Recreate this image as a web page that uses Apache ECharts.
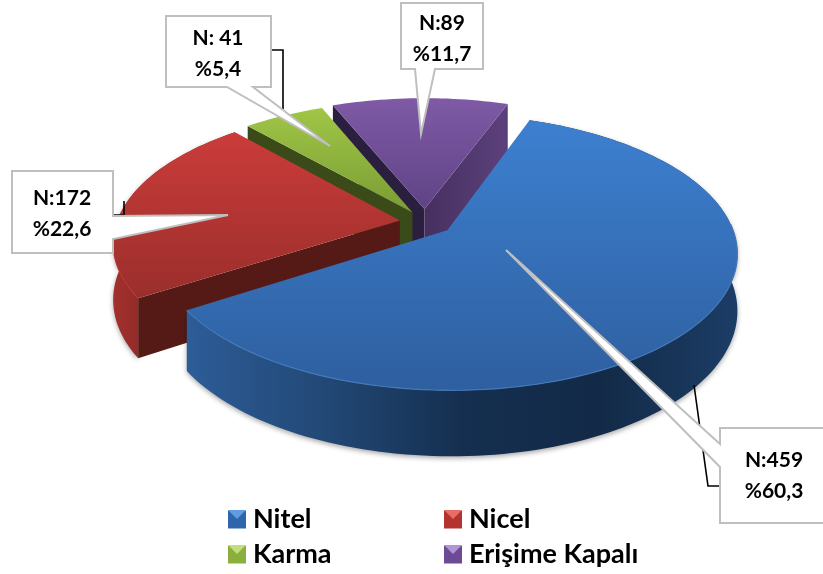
<!DOCTYPE html>
<html>
<head>
<meta charset="utf-8">
<title>Nitel Nicel Karma</title>
<script src="https://cdn.jsdelivr.net/npm/echarts@6/dist/echarts.min.js"></script>
<style>
  html, body { margin: 0; padding: 0; background: #fff; }
  #chart { width: 823px; height: 574px; }
</style>
</head>
<body>
<div id="chart"></div>
<script>
const categories = ['Nitel', 'Nicel', 'Karma', 'Erişime Kapalı']
const counts = [459, 172, 41, 89]
const countLabels = ['N:459', 'N:172', 'N: 41', 'N:89']
const percentLabels = ['%60,3', '%22,6', '%5,4', '%11,7']

const FONT = 'Lato, "Open Sans", sans-serif'
const total = counts.reduce((a, b) => a + b, 0)

// perspective disc
const view = { cx: 425, cy: 222, rx: 283, ry: 132, k: 0.157, depth: 55, startDeg: -70 }

const vGrad = (stops) => ({
  type: 'linear', x: 0, y: 0, x2: 0, y2: 1,
  colorStops: stops.map((c, i) => ({ offset: i / (stops.length - 1), color: c }))
})
const hGrad = (stops) => ({
  type: 'linear', x: 0, y: 0, x2: 1, y2: 0,
  colorStops: stops.map((c, i) => ({ offset: i / (stops.length - 1), color: c }))
})

const looks = [
  {
    explode: 0.1, icon: '#2f66ab', iconLight: '#5f9de0',
    top: vGrad(['#3d80d0', '#2e5f9f']),
    side: hGrad(['#2d5c97', '#224876', '#152f50', '#122a47', '#1c3d66']),
    rim: '#4478b8'
  },
  {
    explode: 0.09, icon: '#b5332f', iconLight: '#e86c68',
    top: vGrad(['#cb3c3a', '#9a2e2b']),
    side: hGrad(['#a3302d', '#7c2421', '#571a17']),
    startWall: '#561a16', rim: '#b93532'
  },
  {
    explode: 0.085, icon: '#8aaf3c', iconLight: '#c2e07a',
    top: vGrad(['#a0c646', '#7a9c35']),
    startWall: '#3a4a18'
  },
  {
    explode: 0.1, icon: '#6c4a96', iconLight: '#b094d6',
    top: vGrad(['#7f5aa6', '#5f4385']),
    startWall: '#2b1f40', endWall: hGrad(['#46305f', '#5c407c'])
  }
]

function project (u, v, z) {
  const w = 1 - view.k * v
  return [view.cx + view.rx * u / w, view.cy + (view.ry * v + view.depth * z) / w]
}

function sliceRange (index) {
  const before = counts.slice(0, index).reduce((a, b) => a + b, 0)
  const from = view.startDeg + before / total * 360
  return [from, from + counts[index] / total * 360]
}

function renderSlice (params, api) {
  const index = params.seriesIndex
  const look = looks[index]
  const value = api.value(0)
  const [from, to] = sliceRange(index)
  const mid = (from + to) / 2 * Math.PI / 180
  const ox = look.explode * Math.cos(mid)
  const oy = look.explode * Math.sin(mid)
  const steps = Math.max(4, Math.ceil((value / total * 360) / 1.5))

  const arc = (z) => {
    const pts = []
    for (let i = 0; i <= steps; i++) {
      const a = (from + (to - from) * i / steps) * Math.PI / 180
      pts.push(project(ox + Math.cos(a), oy + Math.sin(a), z))
    }
    return pts
  }
  const topArc = arc(0)
  const lowArc = arc(1)
  const apexTop = project(ox, oy, 0)
  const apexLow = project(ox, oy, 1)
  const children = []

  if (look.side) {
    children.push({
      type: 'polygon', silent: true,
      shape: { points: topArc.concat(lowArc.slice().reverse()) },
      style: { fill: look.side, shadowColor: 'rgba(0,0,0,0.35)', shadowBlur: 5, shadowOffsetY: 2 }
    })
  }
  const wall = (edgeTop, edgeLow, fill) => children.push({
    type: 'polygon', silent: true,
    shape: { points: [apexTop, edgeTop, edgeLow, apexLow] },
    style: { fill: fill }
  })
  if (look.startWall) wall(topArc[0], lowArc[0], look.startWall)
  if (look.endWall) wall(topArc[steps], lowArc[steps], look.endWall)

  children.push({
    type: 'polygon', silent: true,
    shape: { points: [apexTop].concat(topArc) },
    style: { fill: look.top }
  })
  if (look.rim) {
    children.push({
      type: 'polyline', silent: true,
      shape: { points: topArc.filter((p) => p[1] > view.cy) },
      style: { fill: 'none', stroke: look.rim, lineWidth: 1.2 }
    })
  }
  return { type: 'group', children: children }
}

// callouts: pointer box outline, black leader line and the two text rows
const BORDER = '#bfbfbf'
function callout (index, outline, leader, textX, textY) {
  const els = []
  if (leader) {
    els.push({
      type: 'polyline', silent: true, z: 20,
      shape: { points: leader },
      style: { fill: 'none', stroke: '#000', lineWidth: 1.6 }
    })
  }
  els.push({
    type: 'polygon', silent: true, z: 21,
    shape: { points: outline },
    style: { fill: '#fff', stroke: BORDER, lineWidth: 2 }
  })
  els.push({
    type: 'text', silent: true, z: 22, x: textX, y: textY,
    style: {
      text: countLabels[index] + '\n' + percentLabels[index],
      fill: '#000', font: 'bold 21px ' + FONT, lineHeight: 31,
      align: 'center', verticalAlign: 'middle'
    }
  })
  return els
}

const callouts = [
  ...callout(0,
    [[720, 428], [824, 428], [824, 523], [720, 523], [720, 467], [506, 250], [720, 444]],
    [[694, 385], [708, 486], [722, 486]], 774, 476),
  ...callout(1,
    [[12, 171], [113, 171], [113, 216], [228, 215], [113, 239], [113, 253], [12, 253]],
    [[113, 215], [124, 215], [124, 201]], 62, 214),
  ...callout(2,
    [[166, 16], [271, 16], [271, 87], [253, 87], [330, 146], [227, 87], [166, 87]],
    [[271, 50], [283, 50], [283, 109]], 218, 54),
  ...callout(3,
    [[401, 3], [483, 3], [483, 69], [435, 69], [421, 134], [415, 69], [401, 69]],
    null, 442, 39)
]

// lighter top facet on the legend squares
const bevel = (i, x, y) => ({
  type: 'polygon', silent: true, z: 30,
  shape: { points: [[x, y], [x + 18, y], [x + 9, y + 9]] },
  style: { fill: looks[i].iconLight }
})
const bevels = [bevel(0, 228, 510), bevel(1, 444, 510), bevel(2, 228, 545), bevel(3, 444, 545)]

const legendBase = {
  orient: 'vertical', top: 501, itemWidth: 18, itemHeight: 18, itemGap: 8,
  selectedMode: false, icon: 'rect',
  textStyle: { fontFamily: FONT, fontWeight: 'bold', fontSize: 27, color: '#000', padding: [0, 0, 0, 2] }
}
const legendItem = (i) => ({
  name: categories[i],
  itemStyle: { color: looks[i].icon, borderWidth: 0 }
})

const chart = echarts.init(document.getElementById('chart'), null, { renderer: 'canvas' })
chart.setOption({
  animation: false,
  backgroundColor: '#fff',
  legend: [
    Object.assign({}, legendBase, { left: 223, data: [legendItem(0), legendItem(2)] }),
    Object.assign({}, legendBase, { left: 439, data: [legendItem(1), legendItem(3)] })
  ],
  graphic: { elements: callouts.concat(bevels) },
  series: categories.map((name, i) => ({
    type: 'custom',
    name: name,
    coordinateSystem: 'none',
    z: 4 - i,
    silent: true,
    renderItem: renderSlice,
    data: [[counts[i]]]
  }))
})
</script>
</body>
</html>
